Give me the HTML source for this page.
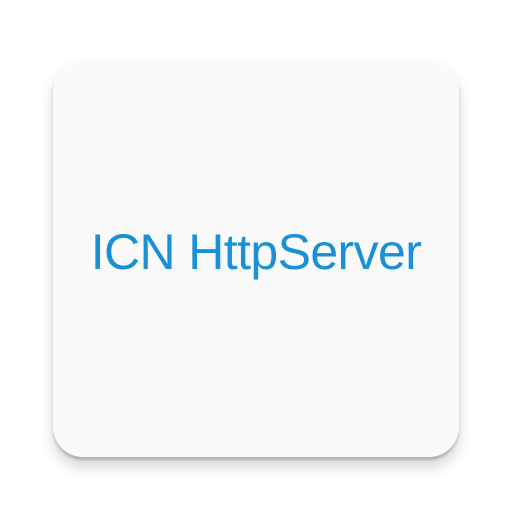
<!DOCTYPE html>
<html><head><style>
html,body{margin:0;padding:0;width:512px;height:512px;background:#fff;overflow:hidden}
.card{position:absolute;left:53px;top:60px;width:406px;height:397px;border-radius:30px;background:#fafafa;
box-shadow:0 3px 2px rgba(0,0,0,0.18),0 10px 14px rgba(0,0,0,0.16);}
.t{position:absolute;left:0;width:512px;top:222px;text-align:center;font-family:"Liberation Sans",sans-serif;
font-size:50px;line-height:60px;color:#1a90d6;letter-spacing:-0.6px;white-space:nowrap}
</style></head><body>
<div class="card"></div>
<div class="t">ICN HttpServer</div>
</body></html>
